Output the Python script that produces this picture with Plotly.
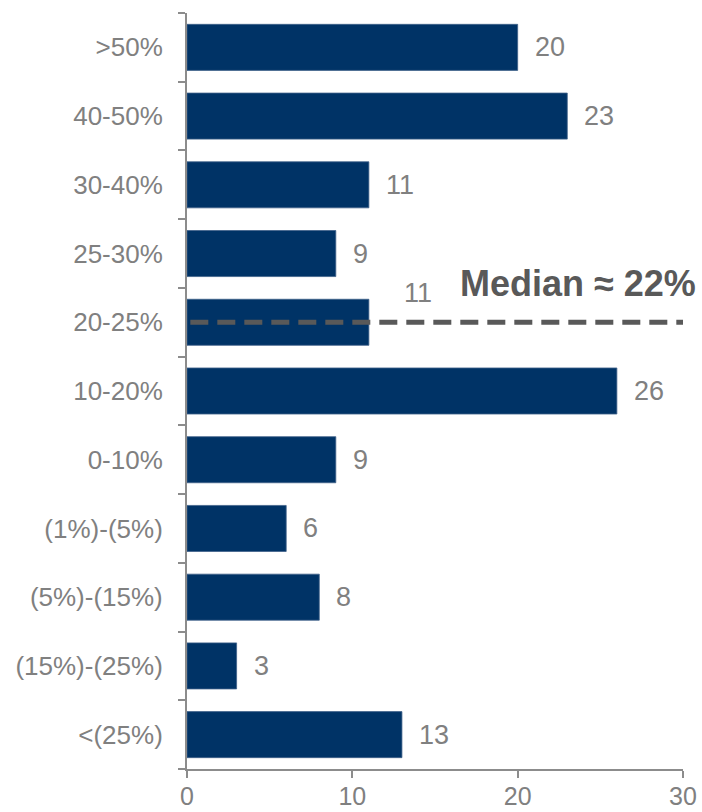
import plotly.graph_objects as go

# Distribution of companies by growth bucket
categories = [">50%", "40-50%", "30-40%", "25-30%", "20-25%", "10-20%",
              "0-10%", "(1%)-(5%)", "(5%)-(15%)", "(15%)-(25%)", "<(25%)"]
counts = [20, 23, 11, 9, 11, 26, 9, 6, 8, 3, 13]
x_ticks = [0, 10, 20, 30]
median_category = "20-25%"
median_label = "Median \u2248 22%"

BAR = "#003366"
GRAY = "#808080"
DARK = "#595959"
FONT = "Liberation Sans, Arial, sans-serif"

fig = go.Figure()
fig.add_trace(go.Bar(
    y=categories, x=counts, orientation="h",
    marker=dict(color=BAR, line=dict(color="#3f6189", width=0.8)),
    hoverinfo="skip",
))

# value labels to the right of each bar
for cat, val in zip(categories, counts):
    shifted = cat == median_category
    fig.add_annotation(
        x=val, y=cat, xref="x", yref="y", text=str(val),
        showarrow=False, xanchor="left", yanchor="middle",
        xshift=33 if shifted else 15, yshift=29 if shifted else 0,
        font=dict(family=FONT, size=27, color=GRAY),
    )

# median reference line and caption
fig.add_shape(
    type="line", xref="x", yref="y",
    x0=0.2, x1=30.6, y0=median_category, y1=median_category,
    line=dict(color=DARK, width=5, dash="18px,9px"),
)
fig.add_annotation(
    x=1.03, y=median_category, xref="paper", yref="y",
    text=f"<b>{median_label}</b>", showarrow=False,
    xanchor="right", yanchor="middle", yshift=39,
    font=dict(family=FONT, size=36, color=DARK),
)

fig.update_layout(
    width=702, height=812,
    margin=dict(l=187, r=19, t=13, b=43),
    paper_bgcolor="white", plot_bgcolor="white",
    bargap=0.33, showlegend=False,
    font=dict(family=FONT, color=GRAY),
)
fig.update_xaxes(
    range=[0, 30], tickvals=x_ticks, ticktext=[str(t) for t in x_ticks],
    showgrid=False, zeroline=False, automargin=False,
    showline=True, linecolor="#8c8c8c", linewidth=2,
    ticks="outside", ticklen=7, tickwidth=2, tickcolor="#8c8c8c",
    tickfont=dict(family=FONT, size=25, color=GRAY),
    ticklabelstandoff=-3,
    fixedrange=True,
)
fig.update_yaxes(
    categoryorder="array", categoryarray=categories[::-1],
    autorange=False, range=[-0.5, len(categories) - 0.5],
    showgrid=False, zeroline=False, automargin=False,
    showline=True, linecolor="#8c8c8c", linewidth=2,
    ticks="outside", tickson="boundaries", ticklen=7, tickwidth=2,
    tickcolor="#8c8c8c",
    tickfont=dict(family=FONT, size=26, color=GRAY),
    ticklabelstandoff=17,
    fixedrange=True,
)

fig.write_html("out.html", config={"displayModeBar": False})
